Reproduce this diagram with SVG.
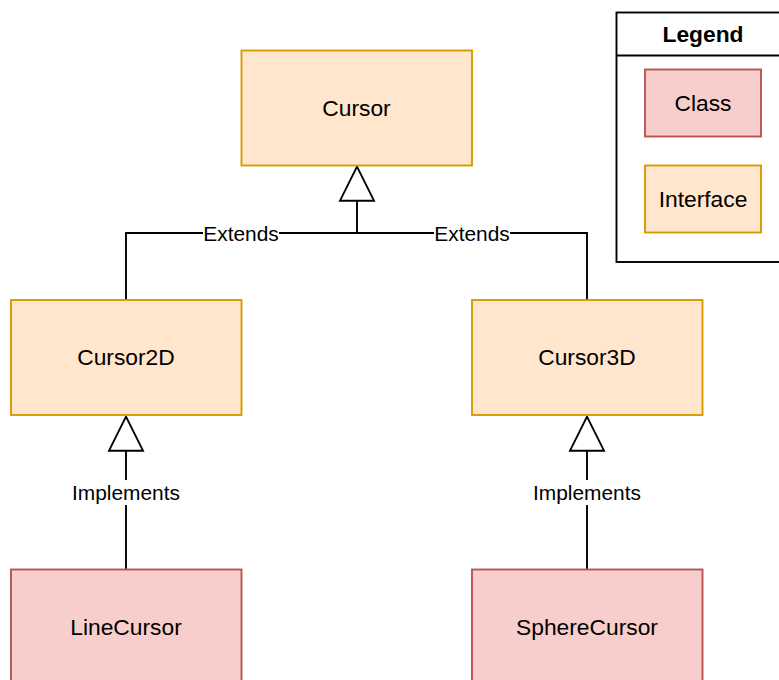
<svg xmlns="http://www.w3.org/2000/svg" width="779" height="680" viewBox="0 0 779 680">
  <style>
    .iface { fill: #ffe6cc; stroke: #d79b00; stroke-width: 1.9; }
    .cls { fill: #f8cecc; stroke: #b85450; stroke-width: 1.9; }
    .node-text { font-family: "Liberation Sans", Arial, sans-serif; font-size: 22.8px; fill: #000; text-anchor: middle; }
    .edge { fill: none; stroke: #000; stroke-width: 1.9; }
    .head { fill: #fff; stroke: #000; stroke-width: 1.9; stroke-linejoin: miter; }
    .edge-label { font-family: "Liberation Sans", Arial, sans-serif; font-size: 20.9px; fill: #000; text-anchor: middle; }
    .label-bg { fill: #fff; stroke: none; }
  </style>
  <rect width="779" height="680" fill="#fff"/>

  <!-- inheritance / realization connectors -->
  <g id="connectors">
    <!-- Cursor2D and Cursor3D extend Cursor -->
    <path class="edge" d="M126 300 V233 H587 V300"/>
    <path class="edge" d="M357 233 V200.7"/>
    <polygon class="head" points="357,166.7 374,200.7 340,200.7"/>
    <rect class="label-bg" x="203" y="222" width="76" height="22"/>
    <text class="edge-label" x="241" y="240.5">Extends</text>
    <rect class="label-bg" x="434" y="222" width="76" height="22"/>
    <text class="edge-label" x="472" y="240.5">Extends</text>

    <!-- LineCursor implements Cursor2D -->
    <path class="edge" d="M126 569 V450.7"/>
    <polygon class="head" points="126,416.7 143,450.7 109,450.7"/>
    <rect class="label-bg" x="70" y="480" width="112" height="25"/>
    <text class="edge-label" x="126" y="499.5">Implements</text>

    <!-- SphereCursor implements Cursor3D -->
    <path class="edge" d="M587 569 V450.7"/>
    <polygon class="head" points="587,416.7 604,450.7 570,450.7"/>
    <rect class="label-bg" x="531" y="480" width="112" height="25"/>
    <text class="edge-label" x="587" y="499.5">Implements</text>
  </g>

  <g id="cursor">
    <rect class="iface" x="241.5" y="50.5" width="230.5" height="115"/>
    <text class="node-text" x="356.5" y="115.5">Cursor</text>
  </g>

  <g id="cursor2d">
    <rect class="iface" x="11" y="300" width="230.5" height="115"/>
    <text class="node-text" x="126" y="365">Cursor2D</text>
  </g>

  <g id="cursor3d">
    <rect class="iface" x="472" y="300" width="230.5" height="115"/>
    <text class="node-text" x="587" y="365">Cursor3D</text>
  </g>

  <g id="linecursor">
    <rect class="cls" x="11" y="569.5" width="230.5" height="115"/>
    <text class="node-text" x="126" y="634.5">LineCursor</text>
  </g>

  <g id="spherecursor">
    <rect class="cls" x="472" y="569.5" width="230.5" height="115"/>
    <text class="node-text" x="587" y="634.5">SphereCursor</text>
  </g>

  <g id="legend">
    <rect x="616.5" y="12.5" width="174" height="249.5" fill="#fff" stroke="#000" stroke-width="1.9"/>
    <line x1="616.5" y1="55.5" x2="790.5" y2="55.5" stroke="#000" stroke-width="1.9"/>
    <text x="703" y="42" font-family="Liberation Sans, Arial, sans-serif" font-size="22.8" font-weight="bold" text-anchor="middle">Legend</text>
    <g id="legend-class">
      <rect class="cls" x="645" y="69.5" width="116" height="67"/>
      <text class="node-text" x="703" y="111">Class</text>
    </g>
    <g id="legend-interface">
      <rect class="iface" x="645" y="165.5" width="116" height="67"/>
      <text class="node-text" x="703" y="207">Interface</text>
    </g>
  </g>
</svg>
